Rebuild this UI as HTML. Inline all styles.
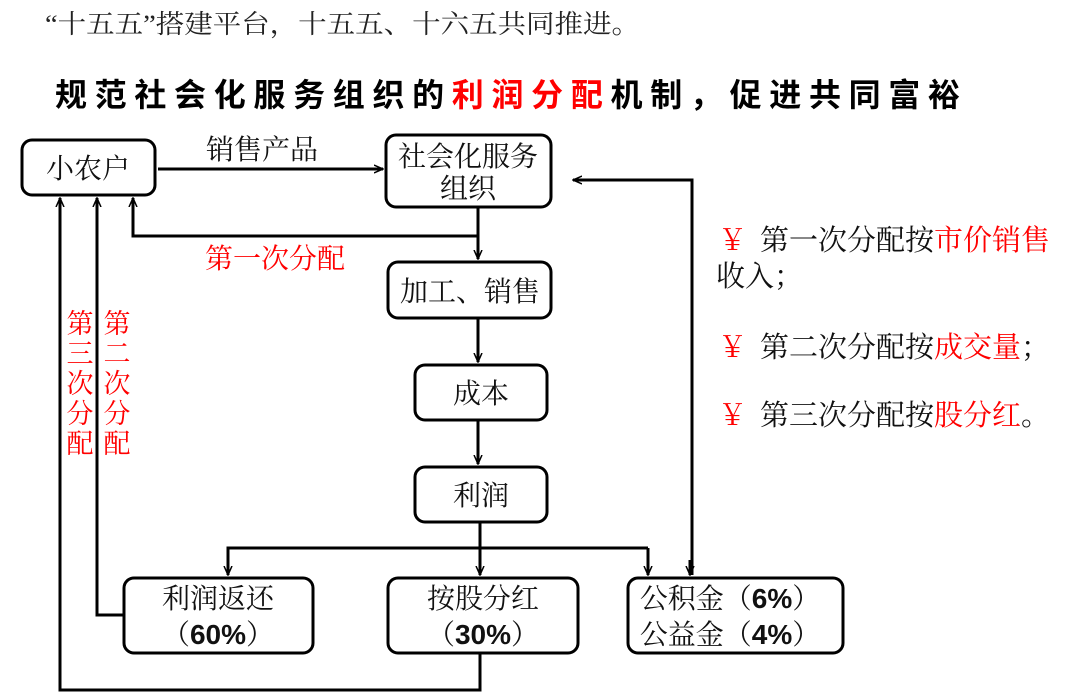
<!DOCTYPE html>
<html><head><meta charset="utf-8"><style>
html,body{margin:0;padding:0;background:#fff;width:1080px;height:699px;overflow:hidden}
svg text{font-family:"Liberation Serif","Noto Serif CJK SC",serif;}
</style></head><body>
<svg width="1080" height="699" viewBox="0 0 1080 699" xmlns="http://www.w3.org/2000/svg">
<defs>
<marker id="a" markerWidth="10" markerHeight="10" refX="9" refY="5" orient="auto" markerUnits="userSpaceOnUse">
<path d="M0,1 L9,5 L0,9" fill="none" stroke="#000" stroke-width="1.5"/></marker>
</defs>
<text x="45" y="33" font-size="26" fill="#222" textLength="595" lengthAdjust="spacingAndGlyphs">“十五五”搭建平台，十五五、十六五共同推进。</text>
<text x="55" y="106" font-size="32" font-weight="bold" fill="#000" textLength="905" lengthAdjust="spacing" style="font-family:'Noto Sans CJK SC',sans-serif">规范社会化服务组织的<tspan fill="#f00">利润分配</tspan>机制，促进共同富裕</text>

<g fill="none" stroke="#000" stroke-width="3">
<rect x="22" y="140" width="133" height="55" rx="10"/>
<rect x="386" y="135" width="165" height="72" rx="10"/>
<rect x="388" y="262" width="163" height="56" rx="10"/>
<rect x="415" y="365" width="132" height="55" rx="10"/>
<rect x="415" y="467" width="132" height="55" rx="10"/>
<rect x="124" y="578" width="189" height="75" rx="10"/>
<rect x="388" y="578" width="190" height="75" rx="10"/>
<rect x="628" y="578" width="215" height="75" rx="10"/>
</g>
<g fill="none" stroke="#000" stroke-width="3">
<path d="M158,169 H383" marker-end="url(#a)"/>
<path d="M478,207 V259" marker-end="url(#a)"/>
<path d="M478,236 H133 V198" marker-end="url(#a)"/>
<path d="M478,318 V362" marker-end="url(#a)"/>
<path d="M478,420 V464" marker-end="url(#a)"/>
<path d="M480,522 V575" marker-end="url(#a)"/>
<path d="M648,548 H228 V575" marker-end="url(#a)"/>
<path d="M648,548 V575" marker-end="url(#a)"/>
<path d="M692,575 V180 H573" marker-end="url(#a)"/>
<path d="M690,560 V575" marker-end="url(#a)"/>
<path d="M124,615 H97 V198" marker-end="url(#a)"/>
<path d="M480,653 V690 H60 V198" marker-end="url(#a)"/>
</g>
<g font-size="28" fill="#111" text-anchor="middle">
<text x="88" y="178">小农户</text>
<text x="468" y="166">社会化服务</text>
<text x="468" y="198">组织</text>
<text x="470" y="301">加工、销售</text>
<text x="481" y="403">成本</text>
<text x="481" y="505">利润</text>
<text x="218" y="608">利润返还</text>
<text x="218" y="644">（<tspan font-family="Liberation Sans" font-weight="bold">60%</tspan>）</text>
<text x="483" y="608">按股分红</text>
<text x="483" y="644">（<tspan font-family="Liberation Sans" font-weight="bold">30%</tspan>）</text>
<text x="730" y="608">公积金（<tspan font-family="Liberation Sans" font-weight="bold">6%</tspan>）</text>
<text x="730" y="644">公益金（<tspan font-family="Liberation Sans" font-weight="bold">4%</tspan>）</text>
<text x="262" y="159">销售产品</text>
</g>
<text x="205" y="268" font-size="28" fill="#f00">第一次分配</text>
<g font-size="27" fill="#f00" text-anchor="middle">
<text x="80" y="333">第</text><text x="80" y="363">三</text><text x="80" y="393">次</text><text x="80" y="423">分</text><text x="80" y="453">配</text>
<text x="117" y="333">第</text><text x="117" y="363">二</text><text x="117" y="393">次</text><text x="117" y="423">分</text><text x="117" y="453">配</text>
</g>
<g font-size="29" fill="#111">
<text x="718" y="250"><tspan fill="#f00">￥</tspan><tspan x="760">第一次分配按</tspan><tspan fill="#f00">市价销售</tspan></text>
<text x="716" y="286">收入；</text>
<text x="718" y="357"><tspan fill="#f00">￥</tspan><tspan x="760">第二次分配按</tspan><tspan fill="#f00">成交量</tspan>；</text>
<text x="718" y="425"><tspan fill="#f00">￥</tspan><tspan x="760">第三次分配按</tspan><tspan fill="#f00">股分红</tspan>。</text>
</g>
</svg>
</body></html>
